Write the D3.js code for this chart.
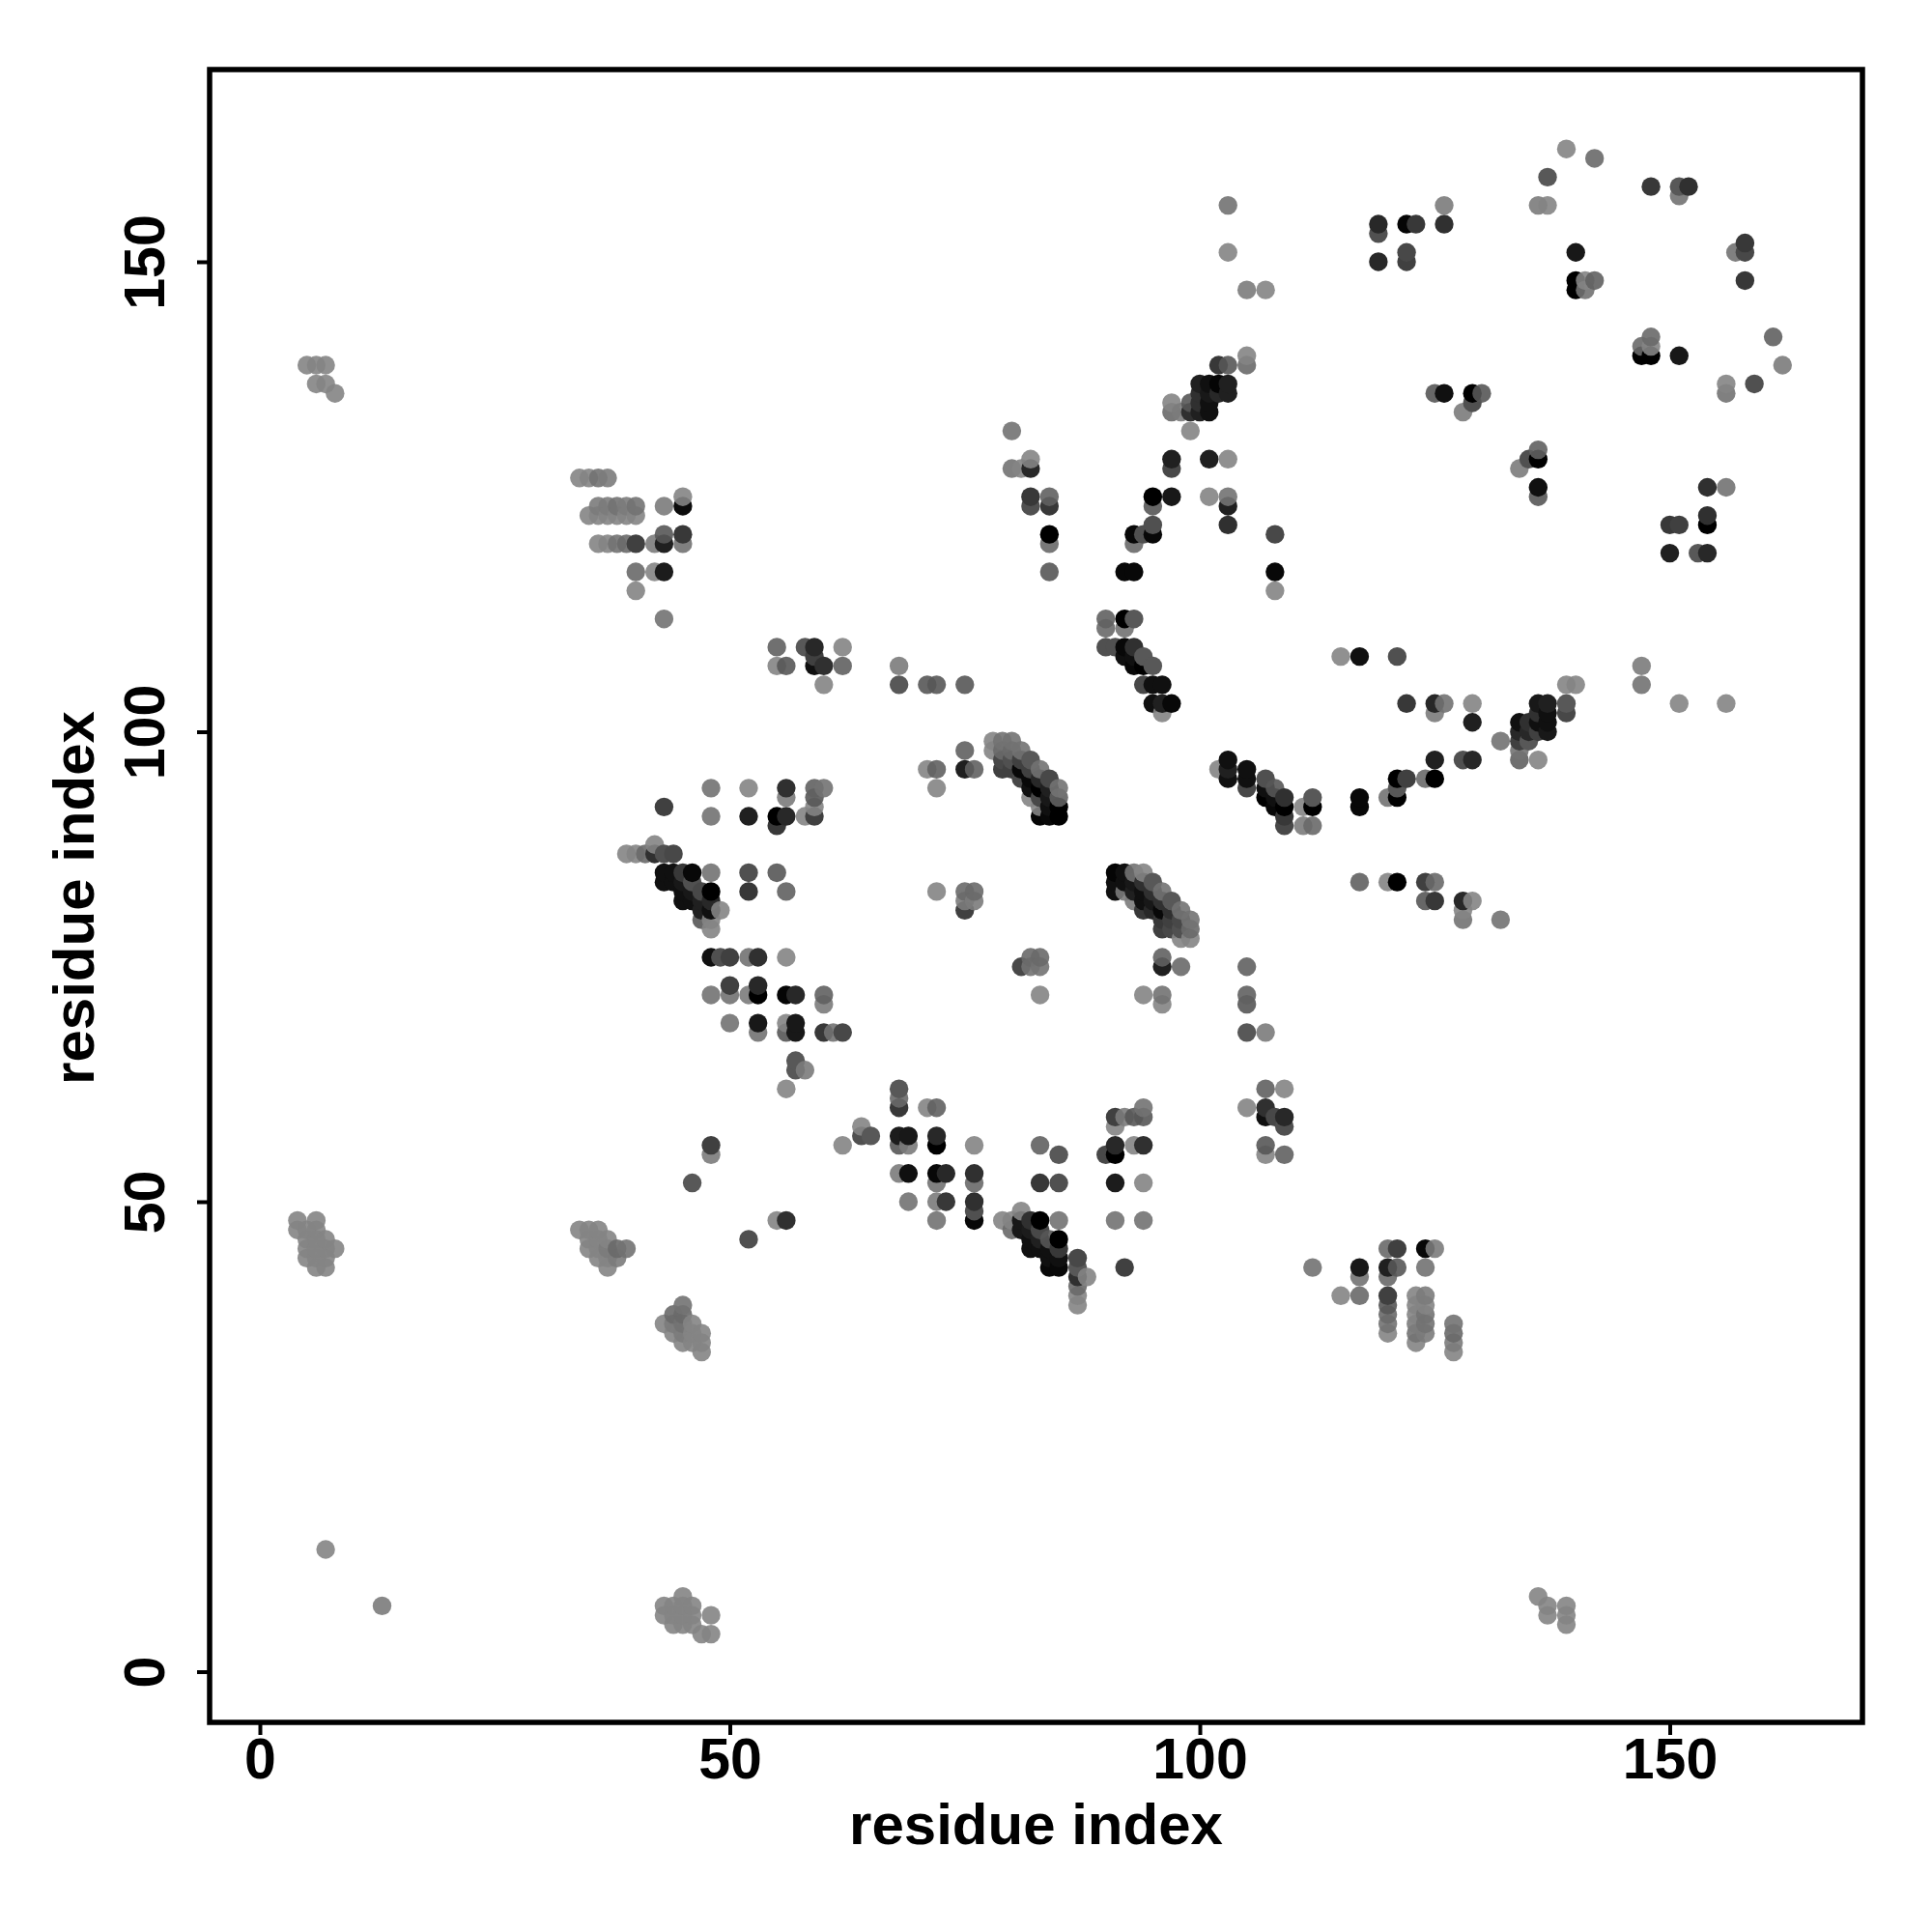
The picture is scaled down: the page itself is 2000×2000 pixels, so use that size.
<!DOCTYPE html>
<html>
<head>
<meta charset="utf-8">
<script src="https://cdn.jsdelivr.net/npm/d3@7"></script>
<style>
html,body{margin:0;padding:0;background:#fff;}
svg{display:block;}
text{font-family:"Liberation Sans",Arial,sans-serif;font-weight:bold;fill:#000;}
</style>
</head>
<body>
<script>
const xDomain = [-5.344, 170.5];
const yDomain = [-5.396, 170.45];
const tickValues = [0, 50, 100, 150];
const xTitle = "residue index";
const yTitle = "residue index";
// each row: [y residue, x residue, shade, x residue, shade, ...]
const contactRows = [
[162,139,0x88],[161,142,0x70],[159,137,0x58],[158,148,0x38,151,0x58,152,0x30],[157,151,0x78],
[156,103,0x78,126,0x80,136,0x80,137,0x88],[154,119,0x28,122,0x05,123,0x38,126,0x30],[153,119,0x50],[152,158,0x38],
[151,103,0x88,122,0x48,140,0x18,157,0x78,158,0x48],[150,119,0x28,122,0x40],[148,140,0x00,141,0x88,142,0x68,158,0x38],
[147,105,0x80,107,0x88,140,0x00,141,0x78],[142,148,0x70,161,0x68],[141,147,0x70,148,0x88],[140,105,0x88,147,0x00,148,0x00,151,0x18],
[139,5,0x88,6,0x88,7,0x88,102,0x38,103,0x60,105,0x70,162,0x80],
[137,6,0x88,7,0x88,100,0x20,101,0x10,102,0x05,103,0x20,156,0x88,159,0x50],
[136,8,0x88,100,0x30,101,0x18,102,0x28,103,0x20,125,0x60,126,0x10,129,0x00,130,0x60,156,0x78],
[135,97,0x88,99,0x60,100,0x30,101,0x10,129,0x50],[134,97,0x70,98,0x80,99,0x30,100,0x20,101,0x10,128,0x80],
[132,80,0x78,99,0x88],[130,136,0x68],[129,82,0x88,97,0x20,101,0x20,103,0x88,135,0x50,136,0x00],
[128,80,0x78,81,0x88,82,0x28,97,0x48,134,0x80],[127,34,0x88,35,0x88,36,0x78,37,0x80],[126,136,0x10,154,0x30,156,0x78],
[125,45,0x88,82,0x38,84,0x68,95,0x00,97,0x18,101,0x88,103,0x78,136,0x60],
[124,36,0x80,37,0x80,38,0x78,39,0x80,40,0x78,43,0x80,45,0x0c,82,0x50,84,0x38,95,0x60,103,0x20],
[123,35,0x88,36,0x88,37,0x88,38,0x88,39,0x88,40,0x88,154,0x30],[122,95,0x50,103,0x30,150,0x38,151,0x40,154,0x00],
[121,43,0x60,45,0x38,84,0x00,93,0x08,94,0x50,95,0x08,108,0x48],
[120,36,0x88,37,0x88,38,0x78,39,0x70,40,0x40,42,0x80,43,0x20,45,0x78,84,0x70,93,0x70],[119,150,0x20,153,0x58,154,0x28],
[117,40,0x70,42,0x88,43,0x1c,84,0x60,92,0x08,93,0x08,108,0x08],[115,40,0x88,108,0x88],[112,43,0x78,90,0x68,92,0x00,93,0x58],[111,90,0x70,92,0x78],
[109,55,0x68,58,0x58,59,0x28,62,0x88,90,0x50,91,0x50,92,0x08,93,0x30],[108,59,0x40,92,0x10,93,0x10,94,0x58,115,0x88,117,0x10,121,0x50],
[107,55,0x88,56,0x60,59,0x10,60,0x30,62,0x68,68,0x80,93,0x08,94,0x00,95,0x58,147,0x80],
[105,60,0x88,68,0x58,71,0x60,72,0x60,75,0x60,94,0x48,95,0x10,96,0x10,139,0x88,140,0x88,147,0x78],
[103,95,0x10,96,0x20,97,0x08,122,0x38,125,0x28,126,0x78,129,0x88,136,0x18,137,0x20,139,0x58,151,0x88,156,0x88],
[102,96,0x88,125,0x80,136,0x30,137,0x10,139,0x48],[101,129,0x20,134,0x10,135,0x30,136,0x10,137,0x10],[100,134,0x28,135,0x28,136,0x40,137,0x18],
[99,78,0x88,79,0x78,80,0x78,132,0x78,134,0x40,135,0x58],[98,75,0x68,78,0x88,79,0x70,80,0x70,81,0x78,134,0x78],
[97,79,0x48,80,0x50,81,0x40,82,0x58,103,0x10,125,0x20,128,0x50,129,0x28,134,0x68,136,0x88],
[96,71,0x88,72,0x68,75,0x20,76,0x68,79,0x40,80,0x40,81,0x08,82,0x40,83,0x78,102,0x88,103,0x20,105,0x10],
[95,81,0x48,82,0x08,83,0x28,84,0x48,103,0x10,105,0x10,107,0x50,121,0x00,122,0x40,124,0x70,125,0x00],
[94,48,0x78,52,0x88,56,0x30,59,0x68,60,0x78,72,0x88,82,0x10,83,0x00,84,0x20,85,0x78,105,0x48,107,0x10,108,0x60,121,0x58],
[93,56,0x80,59,0x60,82,0x88,83,0x48,84,0x18,85,0x68,107,0x00,108,0x10,109,0x30,112,0x58,117,0x08,120,0x78,121,0x00],
[92,43,0x40,59,0x88,83,0x88,84,0x10,85,0x00,108,0x08,109,0x00,111,0x88,112,0x00,117,0x08],
[91,48,0x78,52,0x20,55,0x00,56,0x28,58,0x88,59,0x40,83,0x05,84,0x08,85,0x00,109,0x38],[90,55,0x38,109,0x48,111,0x80,112,0x70],
[88,42,0x88],[87,39,0x88,40,0x88,41,0x70,42,0x30,43,0x50,44,0x48],
[85,43,0x10,44,0x10,45,0x38,46,0x08,48,0x78,52,0x50,55,0x60,91,0x05,92,0x10,93,0x78,94,0x88],
[84,43,0x10,44,0x10,45,0x18,46,0x50,91,0x10,92,0x10,93,0x18,94,0x30,95,0x58,117,0x68,120,0x88,121,0x00,124,0x40,125,0x70],
[83,45,0x10,46,0x18,47,0x48,48,0x00,52,0x38,56,0x68,72,0x88,75,0x70,76,0x70,91,0x10,92,0x80,93,0x20,94,0x10,95,0x30,96,0x78],
[82,45,0x10,46,0x10,47,0x20,48,0x28,75,0x80,76,0x80,93,0x80,94,0x10,95,0x18,96,0x30,97,0x58,124,0x60,125,0x38,128,0x28,129,0x88],
[81,47,0x20,48,0x10,49,0x88,75,0x40,94,0x38,95,0x28,96,0x08,97,0x30,98,0x78,128,0x88],
[80,47,0x60,48,0x88,96,0x38,97,0x40,98,0x48,99,0x78,128,0x78,132,0x78],[79,48,0x88,96,0x40,97,0x48,98,0x50,99,0x70],[78,98,0x88,99,0x88],
[76,48,0x10,49,0x50,50,0x40,52,0x78,53,0x30,56,0x88,82,0x70,83,0x70,96,0x68],[75,81,0x48,82,0x78,83,0x78,96,0x20,98,0x70,105,0x68],[73,50,0x40,53,0x28],
[72,48,0x78,50,0x78,52,0x80,53,0x00,56,0x05,57,0x28,60,0x68,83,0x88,94,0x88,96,0x78,105,0x68],[71,60,0x80,96,0x88,105,0x60],
[69,50,0x78,53,0x18,56,0x88,57,0x18],[68,53,0x78,56,0x60,57,0x18,60,0x38,61,0x78,62,0x48,105,0x58,107,0x80],[65,57,0x58],[64,57,0x58,58,0x80],
[62,56,0x88,68,0x58,107,0x68,109,0x88],[61,68,0x70],[60,68,0x38,71,0x88,72,0x68,94,0x78,105,0x88,107,0x30],
[59,91,0x40,92,0x80,93,0x60,94,0x60,107,0x10,108,0x48,109,0x28],[58,64,0x88,91,0x88,109,0x50],[57,64,0x50,65,0x58,68,0x1c,69,0x18,72,0x28],
[56,48,0x40,62,0x88,68,0x60,69,0x80,72,0x00,76,0x88,83,0x68,91,0x28,93,0x88,94,0x30,107,0x60],[55,48,0x80,85,0x58,90,0x48,91,0x00,107,0x88,109,0x68],
[53,68,0x80,69,0x10,72,0x08,73,0x28,76,0x30],[52,46,0x58,72,0x78,76,0x70,83,0x38,85,0x50,91,0x1c,94,0x88],[50,69,0x78,72,0x80,73,0x38,76,0x30],[49,76,0x50,81,0x88],
[48,4,0x88,6,0x88,55,0x88,56,0x30,72,0x78,76,0x08,79,0x88,80,0x88,81,0x18,82,0x30,83,0x00,85,0x78,91,0x78,94,0x78],
[47,4,0x88,5,0x88,6,0x88,34,0x88,35,0x88,36,0x88,80,0x70,81,0x18,82,0x1c,83,0x48],
[46,5,0x88,6,0x88,7,0x88,35,0x88,36,0x88,37,0x88,52,0x50,82,0x10,83,0x20,84,0x60,85,0x00],
[45,5,0x88,6,0x88,7,0x88,8,0x88,35,0x88,36,0x88,37,0x80,38,0x70,39,0x78,82,0x10,83,0x10,84,0x10,85,0x38,120,0x70,121,0x40,124,0x08,125,0x80],
[44,5,0x88,6,0x88,7,0x88,36,0x88,37,0x88,38,0x80,84,0x10,85,0x10,87,0x48],
[43,6,0x88,7,0x88,37,0x88,84,0x08,85,0x08,87,0x58,92,0x40,112,0x78,117,0x18,120,0x20,121,0x60,124,0x78],
[42,87,0x30,88,0x88,117,0x78,120,0x70],[41,87,0x70],[40,87,0x88,115,0x88,117,0x70,120,0x40,123,0x88,124,0x80],
[39,45,0x78,87,0x88,120,0x60,123,0x88,124,0x88],[38,44,0x70,45,0x70,120,0x70,123,0x88,124,0x78],
[37,43,0x88,44,0x80,45,0x78,46,0x88,120,0x78,123,0x80,124,0x78,127,0x78],[36,44,0x88,45,0x80,46,0x88,47,0x88,120,0x88,123,0x78,124,0x80,127,0x70],
[35,45,0x88,46,0x88,47,0x88,123,0x88,127,0x80],[34,47,0x88,127,0x88],[13,7,0x88],[8,45,0x88,136,0x88],
[7,13,0x80,43,0x88,44,0x88,45,0x88,46,0x88,137,0x88,139,0x88],[6,43,0x88,44,0x88,45,0x88,46,0x88,48,0x88,137,0x88,139,0x88],[5,44,0x88,45,0x88,46,0x88,139,0x88],[4,47,0x88,48,0x88]
];

const contacts = [];
contactRows.forEach(row => {
  for (let k = 1; k < row.length; k += 2) contacts.push({x: row[k], y: row[0], shade: row[k + 1]});
});
contacts.sort((a, b) => d3.ascending(a.x, b.x) || d3.ascending(a.y, b.y));

const left = 217, right = 1928, top_ = 72, bottom = 1783;
const x = d3.scaleLinear().domain(xDomain).range([left, right]);
const y = d3.scaleLinear().domain(yDomain).range([bottom, top_]);

const svg = d3.select("body").append("svg").attr("width", 2000).attr("height", 2000);

const alphaOf = s => s >= 96 ? 0.9 : 1;
const fillOf = s => {
  const toned = s >= 96 ? s + 8 : s;
  const a = alphaOf(s), c = Math.max(0, Math.round((toned - 255 * (1 - a)) / a));
  return `rgb(${c},${c},${c})`;
};

svg.append("g").selectAll("circle").data(contacts).join("circle")
  .attr("cx", d => x(d.x)).attr("cy", d => y(d.y)).attr("r", 9.7)
  .attr("fill", d => fillOf(d.shade)).attr("fill-opacity", d => alphaOf(d.shade));

svg.append("rect").attr("x", left).attr("y", top_).attr("width", right - left).attr("height", bottom - top_)
  .attr("fill", "none").attr("stroke", "#000").attr("stroke-width", 5.5);

const xAxis = svg.append("g").attr("transform", `translate(0,${bottom})`)
  .call(d3.axisBottom(x).tickValues(tickValues).tickSize(13).tickPadding(10));
const yAxis = svg.append("g").attr("transform", `translate(${left},0)`)
  .call(d3.axisLeft(y).tickValues(tickValues).tickSize(13));
[xAxis, yAxis].forEach(g => {
  g.select(".domain").remove();
  g.selectAll("line").attr("stroke", "#000").attr("stroke-width", 4);
  g.selectAll("text").style("font-size", "59px").attr("fill", "#000");
});
xAxis.selectAll("text").attr("dy", null).attr("y", null)
  .attr("transform", "translate(0,58)").attr("text-anchor", "middle");
yAxis.selectAll("text").attr("x", null).attr("dy", null)
  .attr("transform", "translate(-47,0) rotate(-90)").attr("text-anchor", "middle");

svg.append("text").attr("x", (left + right) / 2).attr("y", 1909).attr("text-anchor", "middle")
  .style("font-size", "60px").text(xTitle);
svg.append("text").attr("transform", `translate(97,${(top_ + bottom) / 2 + 2}) rotate(-90)`).attr("text-anchor", "middle")
  .style("font-size", "60px").text(yTitle);
</script>
</body>
</html>
